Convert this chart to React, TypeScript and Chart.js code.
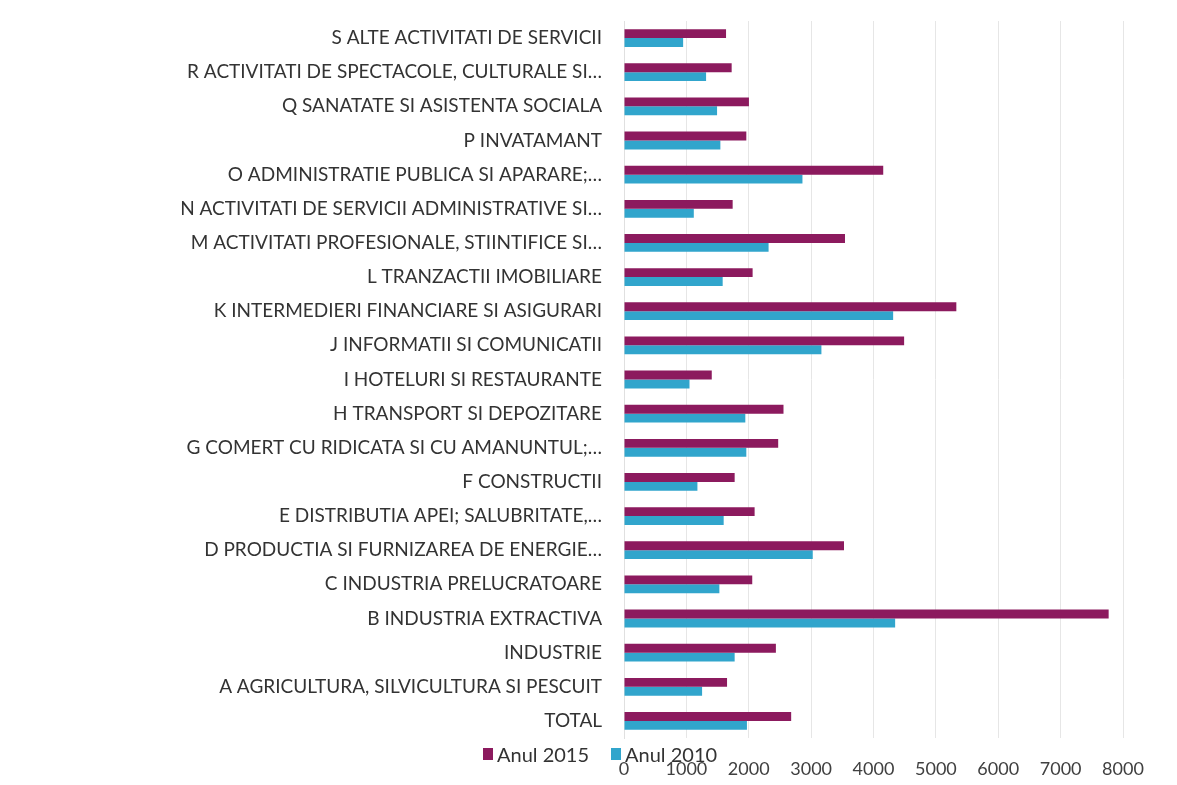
import React, { useEffect, useRef } from "react";
import { Chart, registerables } from "chart.js";

Chart.register(...registerables);

const categories: string[] = [
  "S ALTE ACTIVITATI DE SERVICII",
  "R ACTIVITATI DE SPECTACOLE, CULTURALE SI…",
  "Q SANATATE SI ASISTENTA SOCIALA",
  "P INVATAMANT",
  "O ADMINISTRATIE PUBLICA SI APARARE;…",
  "N ACTIVITATI DE SERVICII ADMINISTRATIVE SI…",
  "M ACTIVITATI PROFESIONALE, STIINTIFICE SI…",
  "L TRANZACTII IMOBILIARE",
  "K INTERMEDIERI FINANCIARE SI ASIGURARI",
  "J INFORMATII SI COMUNICATII",
  "I HOTELURI SI RESTAURANTE",
  "H TRANSPORT SI DEPOZITARE",
  "G COMERT CU RIDICATA SI CU AMANUNTUL;…",
  "F CONSTRUCTII",
  "E DISTRIBUTIA APEI; SALUBRITATE,…",
  "D PRODUCTIA SI FURNIZAREA DE ENERGIE…",
  "C INDUSTRIA PRELUCRATOARE",
  "B INDUSTRIA EXTRACTIVA",
  "INDUSTRIE",
  "A AGRICULTURA, SILVICULTURA SI PESCUIT",
  "TOTAL",
];

const anul2015: number[] = [
  1636, 1726, 2003, 1961, 4156, 1742, 3543, 2062, 5328, 4491, 1407, 2557, 2472,
  1774, 2094, 3527, 2056, 7770, 2435, 1652, 2680,
];

const anul2010: number[] = [
  948, 1316, 1492, 1545, 2861, 1119, 2318, 1582, 4315, 3165, 1050, 1945, 1961,
  1177, 1598, 3026, 1529, 4347, 1774, 1252, 1971,
];

const xTicks: number[] = [0, 1000, 2000, 3000, 4000, 5000, 6000, 7000, 8000];

const COLOR_2015 = "#8C1A5E";
const COLOR_2010 = "#31A5CC";
const FONT = "Lato, 'Open Sans', sans-serif";

export default function App() {
  const ref = useRef<HTMLCanvasElement | null>(null);

  useEffect(() => {
    if (!ref.current) return;
    const chart = new Chart(ref.current, {
      type: "bar",
      data: {
        labels: categories,
        datasets: [
          {
            label: "Anul 2015",
            data: anul2015,
            backgroundColor: COLOR_2015,
            categoryPercentage: 0.52,
            barPercentage: 1,
          },
          {
            label: "Anul 2010",
            data: anul2010,
            backgroundColor: COLOR_2010,
            categoryPercentage: 0.52,
            barPercentage: 1,
          },
        ],
      },
      options: {
        indexAxis: "y",
        animation: false,
        responsive: false,
        maintainAspectRatio: false,
        layout: { padding: { top: 21, right: 54, left: 0, bottom: 0 } },
        plugins: {
          legend: { display: false },
          tooltip: { enabled: false },
        },
        scales: {
          x: {
            min: 0,
            max: 8000,
            afterBuildTicks: (scale: any) => {
              scale.ticks = xTicks.map((v) => ({ value: v }));
            },
            afterFit: (scale: any) => {
              scale.height = 47;
              scale.paddingLeft = 0;
              scale.paddingRight = 0;
            },
            grid: { color: "#E6E6E6", drawTicks: false },
            border: { display: false },
            ticks: {
              color: "#404040",
              font: { family: FONT, size: 18 },
              padding: 20,
              callback: (v: any) => String(v),
            },
          },
          y: {
            afterFit: (scale: any) => {
              scale.width = 624;
              scale.paddingTop = 0;
              scale.paddingBottom = 0;
            },
            grid: { display: false, drawTicks: false },
            border: { display: true, color: "#E0E0E0" },
            ticks: {
              color: "#333333",
              font: { family: FONT, size: 19 },
              padding: 22,
              autoSkip: false,
            },
          },
        },
      },
    });
    return () => chart.destroy();
  }, []);

  const legendItem = (color: string, text: string) => (
    <span style={{ display: "inline-flex", alignItems: "center", marginRight: 22 }}>
      <span
        style={{
          display: "inline-block",
          width: 10,
          height: 12,
          background: color,
          marginRight: 4,
        }}
      />
      <span>{text}</span>
    </span>
  );

  return (
    <div
      style={{
        position: "fixed",
        left: 0,
        top: 0,
        width: 1177,
        height: 785,
        background: "#ffffff",
      }}
    >
      <canvas ref={ref} width={1177} height={785} style={{ display: "block" }} />
      <div
        style={{
          position: "absolute",
          left: 483,
          top: 739,
          fontFamily: FONT,
          fontSize: 20,
          color: "#333333",
          whiteSpace: "nowrap",
          lineHeight: "26px",
        }}
      >
        {legendItem(COLOR_2015, "Anul 2015")}
        {legendItem(COLOR_2010, "Anul 2010")}
      </div>
    </div>
  );
}
